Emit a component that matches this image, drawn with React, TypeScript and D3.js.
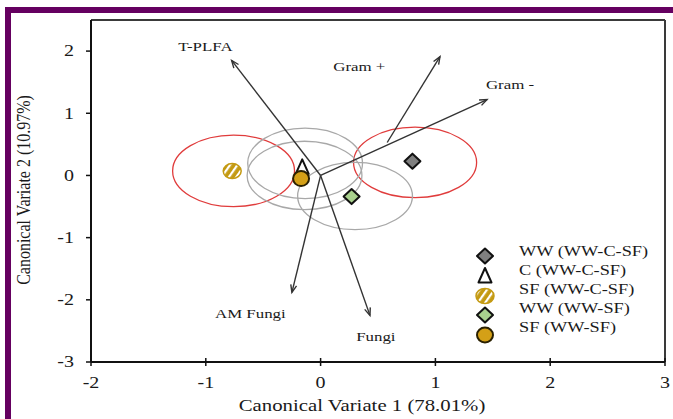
import React from "react";
import * as d3 from "d3";

// ---- data ----
const xTicks = [-2, -1, 0, 1, 2, 3];
const yTicks = [-3, -2, -1, 0, 1, 2];

const seriesNames = ["WW (WW-C-SF)", "C (WW-C-SF)", "SF (WW-C-SF)", "WW (WW-SF)", "SF (WW-SF)"];
const seriesX = [0.80, -0.16, -0.77, 0.27, -0.17];
const seriesY = [0.23, 0.13, 0.07, -0.34, -0.05];
const seriesShape = ["diamond", "triangle", "hatch", "diamond", "circle"];
const seriesFill = ["#7f7f7f", "#ffffff", "#c49a12", "#a9d18e", "#d4a017"];

// confidence ellipses: centre, radii (data units)
const ellipseCx = [-0.758, 0.823, -0.135, -0.14, 0.30];
const ellipseCy = [0.073, 0.21, 0.195, 0.0, -0.33];
const ellipseRx = [0.531, 0.536, 0.50, 0.50, 0.50];
const ellipseRy = [0.575, 0.567, 0.567, 0.55, 0.54];
const ellipseKind = ["red", "red", "gray", "gray", "gray"];

// loading vectors
const vecNames = ["T-PLFA", "Gram +", "Gram -", "AM Fungi", "Fungi"];
const vecX0 = [0, 0.58, 0, 0, 0];
const vecY0 = [0, 0.53, 0, 0, 0];
const vecX1 = [-0.775, 1.04, 1.45, -0.25, 0.43];
const vecY1 = [1.85, 1.91, 1.22, -1.88, -2.25];
const vecLabelX = [-1.24, 0.11, 1.44, -0.92, 0.31];
const vecLabelY = [2.08, 1.76, 1.47, -2.22, -2.58];

const W = 673;
const H = 419;
const SX = 1.25; // horizontal text stretch of original
const FONT = "'Liberation Serif', 'Times New Roman', serif";

function SText({ x, y, size, anchor = "start", children, rotate = false, sx = SX }: any) {
  const t = rotate
    ? `translate(${x},${y}) scale(${sx},1) rotate(-90)`
    : `translate(${x},${y}) scale(${sx},1)`;
  return (
    <text transform={t} fontSize={size} fontFamily={FONT} textAnchor={anchor} dominantBaseline="central" fill="#1a1a1a">
      {children}
    </text>
  );
}

function Marker({ shape, fill, x, y }: any) {
  if (shape === "diamond") {
    return <path d={`M${x},${y - 7.5} L${x + 8},${y} L${x},${y + 7.5} L${x - 8},${y} Z`} fill={fill} stroke="#111" strokeWidth={2} strokeLinejoin="round" />;
  }
  if (shape === "triangle") {
    return <path d={`M${x},${y - 8} L${x + 6.5},${y + 6.5} L${x - 6.5},${y + 6.5} Z`} fill="#fff" stroke="#111" strokeWidth={2} strokeLinejoin="round" />;
  }
  if (shape === "hatch") {
    return <ellipse cx={x} cy={y} rx={9} ry={7.5} fill="url(#hatchGold)" stroke={fill} strokeWidth={1.5} />;
  }
  return <ellipse cx={x} cy={y} rx={8} ry={7.5} fill={fill} stroke="#2a2000" strokeWidth={2} />;
}

export default function App() {
  const x = d3.scaleLinear().domain([-2, 3]).range([91, 665]);
  const y = d3.scaleLinear().domain([-3, 2.5]).range([362, 20]);

  const legendX = 485;
  const legendMarkY = [256, 276, 296, 315, 335];
  const legendTextY = [251, 270, 289, 308, 327];

  return (
    <svg width={W} height={H} style={{ position: "absolute", left: 0, top: 0, background: "#fff" }}>
      <defs>
        <pattern id="hatchGold" patternUnits="userSpaceOnUse" width={6} height={6} patternTransform="rotate(35)">
          <rect width={6} height={6} fill="#c49a12" />
          <rect x={0} width={2.2} height={6} fill="#ffffff" />
        </pattern>
      </defs>

      {/* purple frame */}
      <rect x={5} y={7} width={W - 5} height={6} fill="#650060" />
      <rect x={5} y={7} width={6} height={H - 7} fill="#650060" />

      {/* plot frame */}
      <line x1={x(-2)} x2={x(3)} y1={y(2.5)} y2={y(2.5)} stroke="#3a3a3a" strokeWidth={2} />
      <line x1={x(3)} x2={x(3)} y1={y(2.5)} y2={y(-3)} stroke="#3a3a3a" strokeWidth={2} />
      <line x1={x(-2)} x2={x(-2)} y1={y(2.5)} y2={y(-3)} stroke="#111" strokeWidth={2} />
      <line x1={x(-2)} x2={x(3)} y1={y(-3)} y2={y(-3)} stroke="#111" strokeWidth={2} />

      {/* ticks */}
      {yTicks.map((t) => (
        <g key={"yt" + t}>
          <line x1={x(-2) - 5} x2={x(-2)} y1={y(t)} y2={y(t)} stroke="#111" strokeWidth={1.5} />
          <SText x={x(-2) - 17} y={y(t)} size={16} anchor="end">{String(t)}</SText>
        </g>
      ))}
      {xTicks.map((t) => (
        <g key={"xt" + t}>
          <line x1={x(t)} x2={x(t)} y1={y(-3) - 4} y2={y(-3) + 4} stroke="#111" strokeWidth={1.5} />
          <SText x={x(t)} y={383} size={16} anchor="middle">{String(t)}</SText>
        </g>
      ))}

      {/* axis titles */}
      <SText x={362} y={405} size={16} anchor="middle" sx={1.3}>Canonical Variate 1 (78.01%)</SText>
      <SText x={23} y={190} size={16} anchor="middle" rotate sx={1.2}>Canonical Variate 2 (10.97%)</SText>

      {/* ellipses */}
      {ellipseCx.map((cx, i) => (
        <ellipse
          key={"el" + i}
          cx={x(cx)}
          cy={y(ellipseCy[i])}
          rx={x(ellipseRx[i]) - x(0)}
          ry={y(0) - y(ellipseRy[i])}
          fill="none"
          stroke={ellipseKind[i] === "red" ? "#e03c3c" : "#a8a8a8"}
          strokeWidth={1.3}
        />
      ))}

      {/* vectors */}
      {vecNames.map((n, i) => {
        const x0 = x(vecX0[i]), y0 = y(vecY0[i]), x1 = x(vecX1[i]), y1 = y(vecY1[i]);
        const ang = Math.atan2(y1 - y0, x1 - x0);
        const L = 8, a = 0.38;
        const p1 = [x1 - L * Math.cos(ang - a), y1 - L * Math.sin(ang - a)];
        const p2 = [x1 - L * Math.cos(ang + a), y1 - L * Math.sin(ang + a)];
        return (
          <g key={"v" + i}>
            <line x1={x0} y1={y0} x2={x1} y2={y1} stroke="#333" strokeWidth={1.4} />
            <path d={`M${p1[0]},${p1[1]} L${x1},${y1} L${p2[0]},${p2[1]}`} fill="none" stroke="#333" strokeWidth={1.4} />
            <SText x={x(vecLabelX[i])} y={y(vecLabelY[i])} size={13.5}>{n}</SText>
          </g>
        );
      })}

      {/* points */}
      {seriesNames.map((n, i) => (
        <Marker key={"p" + i} shape={seriesShape[i]} fill={seriesFill[i]} x={x(seriesX[i])} y={y(seriesY[i])} />
      ))}

      {/* legend */}
      {seriesNames.map((n, i) => (
        <g key={"lg" + i}>
          <Marker shape={seriesShape[i]} fill={seriesFill[i]} x={legendX} y={legendMarkY[i]} />
          <SText x={519} y={legendTextY[i]} size={15.5} sx={1.18}>{n}</SText>
        </g>
      ))}
    </svg>
  );
}
